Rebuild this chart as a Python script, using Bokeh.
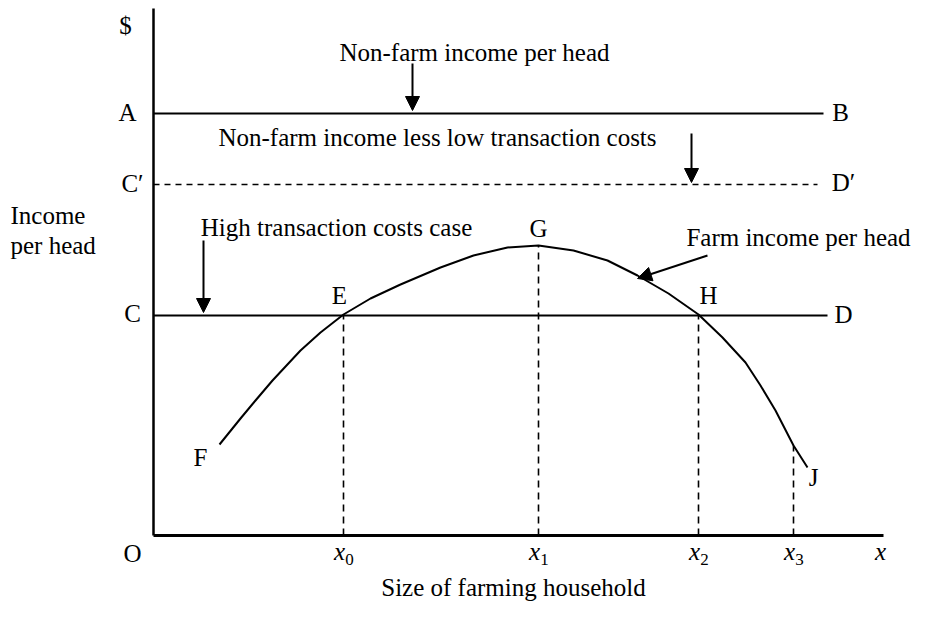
from bokeh.plotting import figure
from bokeh.models import Arrow, NormalHead, Range1d
from bokeh.core.properties import value
from bokeh.embed import file_html
from bokeh.resources import INLINE

# ---- diagram values (origin O at 0,0; units) ----
curve_x = [66, 87, 102, 119, 147, 167, 190, 217, 247, 287, 320, 354, 385,
           420, 454, 484, 515, 545, 569, 592, 607, 622, 640, 654]
curve_y = [91, 117, 135, 155, 185, 203, 221, 237, 251, 268, 280, 288, 290,
           285, 275, 260, 242, 221, 198, 173, 150, 125, 90, 68]

level_names = ["AB", "C'D'", "CD"]
level_y = [422, 351, 220]
level_end = [670, 664, 674]
level_dash = ["solid", "6 5", "solid"]

tick_names = ["0", "1", "2", "3"]
tick_x = [190, 385, 545, 640]
tick_top = [220, 290, 220, 90]

axis_x_end = 730
axis_y_end = 527

point_labels = ["$", "A", "C\u2032", "C", "B", "D\u2032", "D", "E", "G", "H", "F", "J", "O"]
point_x = [-28, -26, -21, -21, 687, 690, 690, 186, 385, 555, 47, 660, -21]
point_y = [510, 423, 352, 222, 423, 353, 221, 240, 307, 240, 78, 58, -18]

notes = ["Non-farm income per head", "Non-farm income less low transaction costs",
         "High transaction costs case", "Farm income per head"]
note_x = [321, 284, 183, 645]
note_y = [483, 398, 308, 298]

xlabel = "Size of farming household"
xlabel_x = 360
xlabel_y = -52

ylabel_lines = ["Income", "per head"]
ylabel_x = [-143, -143]
ylabel_y = [320, 290]

arrow_x0 = [259, 538, 50, 554]
arrow_y0 = [472, 402, 295, 280]
arrow_x1 = [259, 538, 50, 484]
arrow_y1 = [425, 353, 223, 257]

FONT = value("Liberation Serif")
FS = "25px"

p = figure(width=914, height=604, output_backend="svg", toolbar_location=None,
           x_range=Range1d(-153, 761), y_range=Range1d(-69, 535),
           x_axis_location=None, y_axis_location=None, min_border=0)
p.outline_line_color = None
p.grid.visible = False
p.background_fill_color = "white"
p.border_fill_color = "white"

# axes
p.line([0, axis_x_end], [0, 0], line_color="black", line_width=3)
p.line([0, 0], [0, axis_y_end], line_color="black", line_width=2.5)

# horizontal levels
for yv, xe, dash in zip(level_y, level_end, level_dash):
    p.line([0, xe], [yv, yv], line_color="black", line_width=2 if dash == "solid" else 1.6,
           line_dash=dash)

# dashed drop lines
for xv, top in zip(tick_x, tick_top):
    p.line([xv, xv], [0, top], line_color="black", line_width=1.6, line_dash="7 5")

# farm income curve
p.line(curve_x, curve_y, line_color="black", line_width=2, line_join="round")

# arrows
for xs, ys, xe, ye in zip(arrow_x0, arrow_y0, arrow_x1, arrow_y1):
    p.add_layout(Arrow(end=NormalHead(size=14, fill_color="black", line_color="black"),
                       x_start=xs, y_start=ys, x_end=xe, y_end=ye,
                       line_color="black", line_width=2))

# labels
p.text(x=point_x, y=point_y, text=point_labels, text_font=FONT, text_font_size=FS,
       text_align="center", text_baseline="middle", text_color="black")
p.text(x=note_x, y=note_y, text=notes, text_font=FONT, text_font_size=FS,
       text_align="center", text_baseline="middle", text_color="black")
p.text(x=[xlabel_x], y=[xlabel_y], text=[xlabel], text_font=FONT, text_font_size=FS,
       text_align="center", text_baseline="middle", text_color="black")
p.text(x=ylabel_x, y=ylabel_y, text=ylabel_lines, text_font=FONT, text_font_size=FS,
       text_align="left", text_baseline="middle", text_color="black")

# x tick labels: italic x with subscript
p.text(x=[xv - 4 for xv in tick_x], y=[-16] * len(tick_x), text=["x"] * len(tick_x),
       text_font=FONT, text_font_size=FS, text_font_style="italic",
       text_align="center", text_baseline="middle", text_color="black")
p.text(x=[xv + 6 for xv in tick_x], y=[-24] * len(tick_x), text=tick_names,
       text_font=FONT, text_font_size="17px",
       text_align="center", text_baseline="middle", text_color="black")
p.text(x=[axis_x_end - 3], y=[-16], text=["x"], text_font=FONT, text_font_size=FS,
       text_font_style="italic", text_align="center", text_baseline="middle", text_color="black")

open("out.html", "w").write(file_html(p, INLINE))
